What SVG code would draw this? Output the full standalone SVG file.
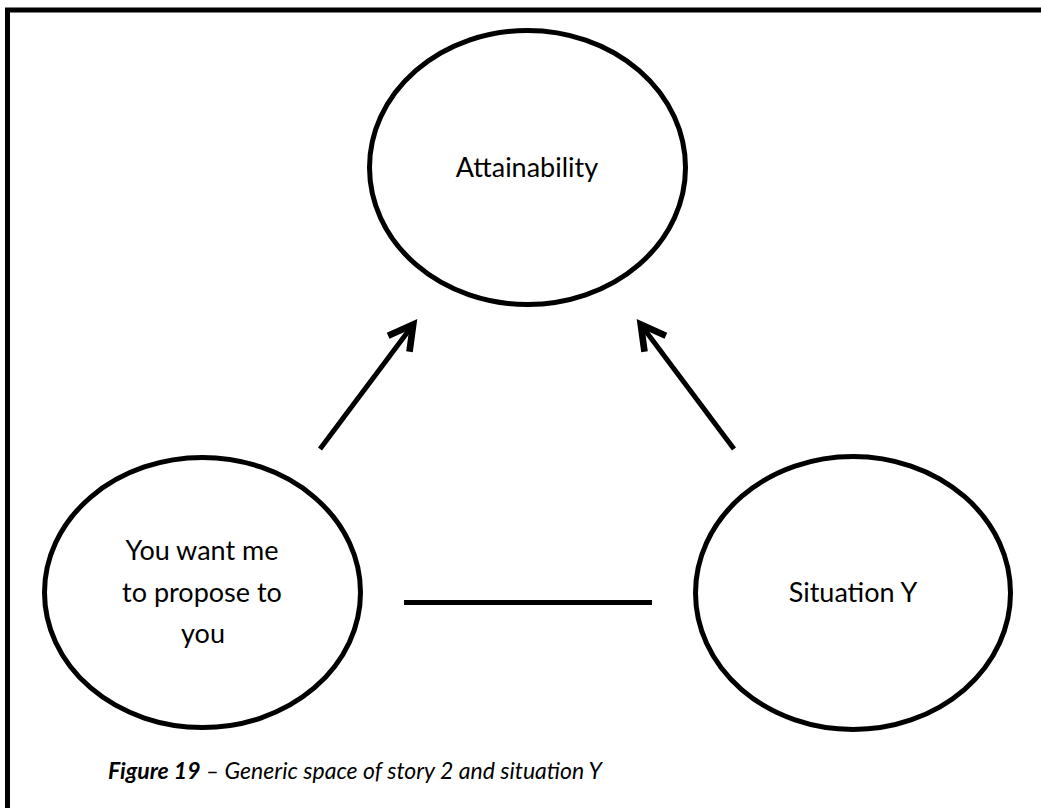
<svg xmlns="http://www.w3.org/2000/svg" width="1041" height="808" viewBox="0 0 1041 808">
  <style>
    .node { fill: #ffffff; stroke: #000000; stroke-width: 5; }
    .label { font-family: Lato, "Liberation Sans", Arial, sans-serif; font-size: 27px; fill: #000000; text-anchor: middle; }
    .conn { stroke: #000000; stroke-width: 5; fill: none; }
    .caption { font-family: Lato, "Liberation Sans", Arial, sans-serif; font-size: 23px; font-style: italic; fill: #000000; }
  </style>
  <defs>
    <marker id="openArrow" markerUnits="userSpaceOnUse" markerWidth="40" markerHeight="40" viewBox="-25 -15 30 30" refX="0" refY="0" orient="auto" overflow="visible">
      <path d="M-19,-10 L-1,0 L-19,10" fill="none" stroke="#000000" stroke-width="5" stroke-linejoin="miter"/>
    </marker>
  </defs>
  <rect x="0" y="0" width="1041" height="808" fill="#ffffff"/>
  <rect id="frame" x="7.5" y="10" width="1100" height="900" fill="none" stroke="#000000" stroke-width="5"/>

  <g id="connectors">
    <line class="conn" x1="320" y1="449" x2="414" y2="323.5" marker-end="url(#openArrow)"/>
    <line class="conn" x1="734" y1="449" x2="640" y2="323.5" marker-end="url(#openArrow)"/>
    <line class="conn" x1="404" y1="602.5" x2="652" y2="602.5"/>
  </g>

  <g id="node-attainability">
    <ellipse class="node" cx="527.5" cy="167.5" rx="158" ry="137"/>
    <text class="label" x="527" y="177">Attainability</text>
  </g>

  <g id="node-proposal">
    <ellipse class="node" cx="202.5" cy="592.5" rx="158" ry="135"/>
    <text class="label" x="202" y="560">You want me</text>
    <text class="label" x="202" y="601.5">to propose to</text>
    <text class="label" x="203" y="643">you</text>
  </g>

  <g id="node-situation">
    <ellipse class="node" cx="853" cy="593" rx="157.5" ry="136.5"/>
    <text class="label" x="853" y="602">Situation Y</text>
  </g>

  <text id="caption" class="caption" x="108" y="779"><tspan font-weight="bold">Figure 19</tspan> – Generic space of story 2 and situation Y</text>
</svg>
